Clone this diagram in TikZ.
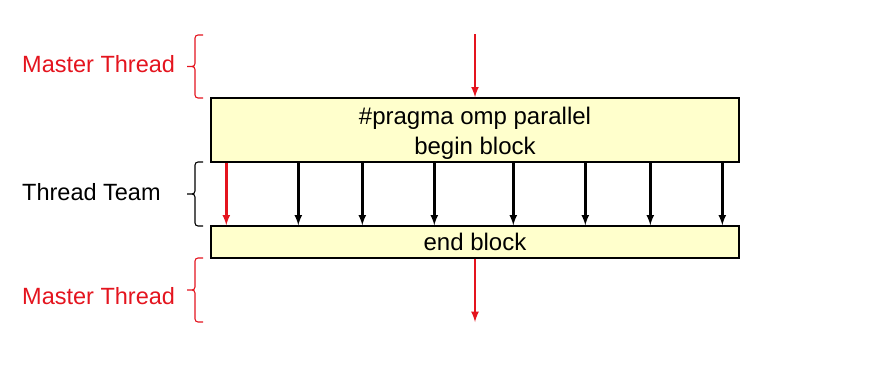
\documentclass[tikz,border=0pt]{standalone}
\usepackage{fontspec}
\setmainfont{Liberation Sans}
\usetikzlibrary{arrows}

\definecolor{ompred}{RGB}{228,20,30}
\definecolor{blockfill}{RGB}{255,255,204}

\tikzset{
  blockbox/.style={draw=black, line width=1.4pt, fill=blockfill, inner sep=0pt,
    align=center, font=\fontsize{24}{30}\selectfont},
  masterarrow/.style={->, ompred, line width=2.5pt},
  teamarrow/.style={->, black, line width=2.5pt},
  bracket/.style={line width=1.1pt, rounded corners=3pt},
  sidelabel/.style={anchor=west, inner sep=0pt, font=\fontsize{23.5}{28}\selectfont}
}

% left brace between two heights, tip pointing left
\newcommand{\sidebrace}[3]{%
  \draw[bracket,#1] (203,#2) -- (195,#2) -- (195,{(#2+#3)/2}) -- (187,{(#2+#3)/2})
    (203,#3) -- (195,#3) -- (195,{(#2+#3)/2}) -- (187,{(#2+#3)/2});}

\begin{document}
\begin{tikzpicture}[x=1pt, y=-1pt, > = latex]
  \useasboundingbox (0,0) rectangle (874,375);

  % the two blocks
  \node[blockbox, minimum width=528pt, minimum height=64pt] (begin) at (475,130)
    {\rule{0pt}{23pt}\#pragma omp parallel\\begin block};
  \node[blockbox, minimum width=528pt, minimum height=32pt] (endblk) at (475,242) {end block};

  % master thread in and out
  \coordinate (mtop) at (475,34);
  \coordinate (mbot) at (475,322);
  \draw[masterarrow] (mtop) -- (begin.north);
  \draw[masterarrow] (endblk.south) -- (mbot);

  % the team
  \draw[masterarrow] ([xshift=16]begin.south west) -- ([xshift=16]endblk.north west);
  \foreach \dx in {88,152,224,303,375,440,512}
    \draw[teamarrow] ([xshift=\dx]begin.south west) -- ([xshift=\dx]endblk.north west);

  % braces on the left
  \sidebrace{ompred}{35}{98}
  \sidebrace{black}{162}{226}
  \sidebrace{ompred}{258}{322}

  \node[sidelabel, text=ompred] (mlabtop) at (22,64) {Master Thread};
  \node[sidelabel] (teamlab) at (22,192) {Thread Team};
  \node[sidelabel, text=ompred] (mlabbot) at (22,296) {Master Thread};
\end{tikzpicture}
\end{document}
